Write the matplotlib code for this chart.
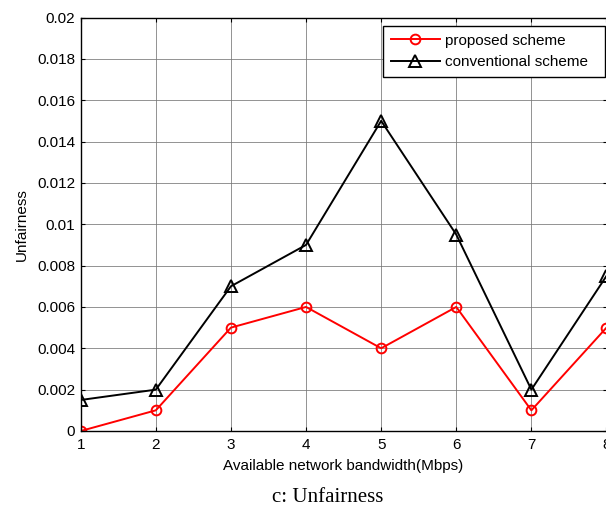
import matplotlib
matplotlib.use("Agg")
import matplotlib.pyplot as plt

bandwidth = [1, 2, 3, 4, 5, 6, 7, 8]
proposed = [0.0, 0.001, 0.005, 0.006, 0.004, 0.006, 0.001, 0.005]
conventional = [0.0015, 0.002, 0.007, 0.009, 0.015, 0.0095, 0.002, 0.0075]
yticks = [0, 0.002, 0.004, 0.006, 0.008, 0.01, 0.012, 0.014, 0.016, 0.018, 0.02]
ylabels = ["0", "0.002", "0.004", "0.006", "0.008", "0.01", "0.012", "0.014", "0.016", "0.018", "0.02"]

plt.rcParams['font.family'] = ['Liberation Sans', 'DejaVu Sans']

fig = plt.figure(figsize=(6.06, 5.08), dpi=100)
left, right = 80.7, 606.5
top, bottom = 17.5, 431
ax = fig.add_axes([left/606, 1-bottom/508, (right-left)/606, (bottom-top)/508])

ax.plot(bandwidth, proposed, color='red', marker='o', markersize=7, markerfacecolor='none',
        markeredgewidth=1.4, linewidth=1.4, label='proposed scheme')
ax.plot(bandwidth, conventional, color='black', marker='^', markersize=8.5, markerfacecolor='none',
        markeredgewidth=1.4, linewidth=1.4, label='conventional scheme')

ax.set_xlim(1, 8)
ax.set_ylim(0, 0.02)
ax.set_xticks(bandwidth)
ax.set_yticks(yticks)
ax.set_yticklabels(ylabels)
ax.tick_params(direction='in', top=True, right=True, labelsize=11, length=3)
ax.tick_params(axis='x', pad=5)
ax.tick_params(axis='y', pad=4)
ax.grid(True, color='#777777', linewidth=0.7, alpha=0.8)
for s in ax.spines.values():
    s.set_linewidth(1.0)
ax.set_xlabel('Available network bandwidth(Mbps)', fontsize=11, labelpad=5)
ax.set_ylabel('Unfairness', fontsize=11, labelpad=6)

ax_w = right - left
ax_h = bottom - top
lx0 = (383 - left) / ax_w
lx1 = (605 - left) / ax_w
ly1 = 1 - (26 - top) / ax_h
ly0 = 1 - (76 - top) / ax_h
leg = ax.legend(loc='upper right', fontsize=11, frameon=True, fancybox=False,
                edgecolor='black', framealpha=1, borderaxespad=0.0,
                bbox_to_anchor=(lx0, ly0, lx1 - lx0, ly1 - ly0), mode='expand',
                handlelength=3.2, labelspacing=0.5, borderpad=0.5, handletextpad=0.35)
leg.get_frame().set_linewidth(1.0)

fig.text(327.5/606, 1-502/508, 'c: Unfairness', family='Liberation Serif', fontsize=15,
         ha='center', va='baseline')

fig.savefig('out.png', dpi=100)
